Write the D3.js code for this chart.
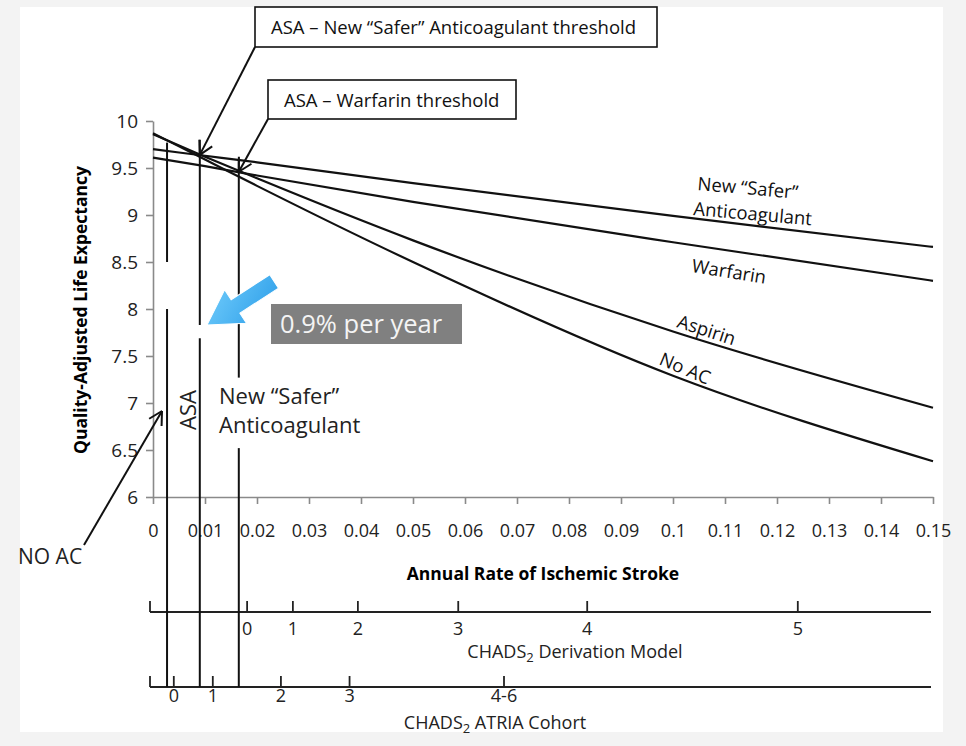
<!DOCTYPE html>
<html>
<head>
<meta charset="utf-8">
<script src="https://cdn.jsdelivr.net/npm/d3@7"></script>
<style>
  body { margin: 0; background: #f3f3f3; }
  text { font-family: "Open Sans", sans-serif; }
</style>
</head>
<body>
<div id="my_dataviz"></div>
<script>
const rates = [0, 0.01, 0.02, 0.05, 0.1, 0.15];
const newSafer = [9.70, 9.63, 9.56, 9.34, 8.99, 8.66];
const warfarin = [9.61, 9.52, 9.42, 9.14, 8.71, 8.30];
const aspirin = [9.86, 9.62, 9.39, 8.73, 7.76, 6.95];
const noAC = [9.87, 9.59, 9.31, 8.50, 7.29, 6.38];

const yTicks = [6, 6.5, 7, 7.5, 8, 8.5, 9, 9.5, 10];
const xTicks = [0, 0.01, 0.02, 0.03, 0.04, 0.05, 0.06, 0.07, 0.08, 0.09, 0.1, 0.11, 0.12, 0.13, 0.14, 0.15];

// CHADS2 scores placed on the stroke rate scale
const chadsLabels = ["0", "1", "2", "3", "4", "5"];
const chadsRates = [0.0181, 0.0269, 0.0394, 0.0587, 0.0835, 0.124];
const atriaLabels = ["0", "1", "2", "3", "4-6"];
const atriaRates = [0.004, 0.0115, 0.0246, 0.0378, 0.0675];

// threshold rates (vertical lines): NO AC, ASA, New "Safer"
const thresholdRates = [0.0027, 0.009, 0.0165];
const thresholdTops = [9.77, 9.80, 9.60];
// crossing points: ASA vs New "Safer", ASA vs Warfarin
const crossRates = [0.009, 0.0165];
const crossValues = [9.64, 9.46];

const W = 966, H = 746;
const margin = { top: 121, left: 153 },
  width = 780,
  height = 376;

const svg = d3.select("#my_dataviz")
  .append("svg")
  .attr("width", W)
  .attr("height", H);

// white page panel
svg.append("rect")
  .attr("x", 20).attr("y", 7)
  .attr("width", 923).attr("height", 725)
  .attr("fill", "#fff");

const x = d3.scaleLinear().domain([0, 0.15]).range([margin.left, margin.left + width]);
const y = d3.scaleLinear().domain([6, 10]).range([margin.top + height, margin.top]);

// Y axis
const yAxis = svg.append("g")
  .attr("transform", `translate(${margin.left},0)`)
  .call(d3.axisLeft(y).tickValues(yTicks).tickSize(7).tickSizeOuter(0).tickPadding(8).tickFormat(d3.format("~g")));
yAxis.select(".domain").attr("stroke", "#8a8a8a").attr("stroke-width", 1.6);
yAxis.selectAll(".tick line").attr("stroke", "#8a8a8a").attr("stroke-width", 1.6);
yAxis.selectAll("text").style("font-size", "19px").style("fill", "#222").style("font-family", "Open Sans");

// X axis
const xAxis = svg.append("g")
  .attr("transform", `translate(0,${margin.top + height})`)
  .call(d3.axisBottom(x).tickValues(xTicks).tickSize(7).tickSizeOuter(0).tickPadding(20).tickFormat((d) => +d.toFixed(2)));
xAxis.select(".domain").attr("stroke", "#8a8a8a").attr("stroke-width", 1.6);
xAxis.selectAll(".tick line").attr("stroke", "#8a8a8a").attr("stroke-width", 1.6);
xAxis.selectAll("text").style("font-size", "18px").style("fill", "#222").style("font-family", "Open Sans");

// axis titles
svg.append("text")
  .attr("transform", `translate(87,310)rotate(-90)`)
  .attr("text-anchor", "middle")
  .style("font-size", "17.5px").style("font-weight", "bold")
  .text("Quality-Adjusted Life Expectancy");
svg.append("text")
  .attr("x", 543).attr("y", 580)
  .attr("text-anchor", "middle")
  .style("font-size", "17.5px").style("font-weight", "bold")
  .text("Annual Rate of Ischemic Stroke");

// curves
const line = d3.line()
  .x((d) => x(d[0]))
  .y((d) => y(d[1]))
  .curve(d3.curveMonotoneX);
[newSafer, warfarin, aspirin, noAC].forEach((vals) => {
  svg.append("path")
    .datum(rates.map((r, i) => [r, vals[i]]))
    .attr("d", line)
    .attr("fill", "none")
    .attr("stroke", "#111")
    .attr("stroke-width", 2.2);
});

// curve labels
const curveLabels = [
  { t: "New \u201cSafer\u201d", px: 697, py: 190, a: 5 },
  { t: "Anticoagulant", px: 693, py: 215, a: 5 },
  { t: "Warfarin", px: 691, py: 272, a: 9 },
  { t: "Aspirin", px: 676, py: 327, a: 18 },
  { t: "No AC", px: 658, py: 364, a: 23 }
];
svg.selectAll(".clabel")
  .data(curveLabels)
  .join("text")
  .attr("transform", (d) => `translate(${d.px},${d.py})rotate(${d.a})`)
  .style("font-size", "18.5px")
  .style("fill", "#111")
  .text((d) => d.t);

// secondary CHADS2 axes
const chadsY = 612, atriaY = 687;
function subAxis(yPos, vals, labels, title, titleX, titleY) {
  const g = svg.append("g");
  g.append("line")
    .attr("x1", 150).attr("x2", 931)
    .attr("y1", yPos).attr("y2", yPos)
    .attr("stroke", "#222").attr("stroke-width", 1.8);
  g.append("line")
    .attr("x1", 150).attr("x2", 150)
    .attr("y1", yPos - 11).attr("y2", yPos)
    .attr("stroke", "#222").attr("stroke-width", 1.8);
  g.selectAll(".tk")
    .data(vals)
    .join("line")
    .attr("x1", (d) => x(d)).attr("x2", (d) => x(d))
    .attr("y1", yPos - 11).attr("y2", yPos)
    .attr("stroke", "#222").attr("stroke-width", 1.8);
  g.selectAll(".lb")
    .data(vals)
    .join("text")
    .attr("x", (d) => x(d))
    .attr("y", yPos + (yPos === chadsY ? 23 : 15))
    .attr("text-anchor", "middle")
    .style("font-size", "18px").style("fill", "#222")
    .text((d, i) => labels[i]);
  const t = g.append("text")
    .attr("x", titleX).attr("y", titleY)
    .attr("text-anchor", "middle")
    .style("font-size", "18px").style("fill", "#222");
  t.append("tspan").text("CHADS");
  t.append("tspan").attr("dy", 4).style("font-size", "13px").text("2");
  t.append("tspan").attr("dy", -4).text(" " + title);
}
subAxis(chadsY, chadsRates, chadsLabels, "Derivation Model", 575, 658);
subAxis(atriaY, atriaRates, atriaLabels, "ATRIA Cohort", 495, 729);

// threshold vertical lines (with gaps where labels sit)
const gaps = [[8.0, 8.5], [7.69, 7.83], [6.52, 7.27]];
thresholdRates.forEach((r, i) => {
  const segs = [[y(thresholdTops[i]), y(gaps[i][1])], [y(gaps[i][0]), atriaY]];
  segs.forEach((s) => {
    svg.append("line")
      .attr("x1", x(r)).attr("x2", x(r))
      .attr("y1", s[0]).attr("y2", s[1])
      .attr("stroke", "#111").attr("stroke-width", 2);
  });
});

// labels next to thresholds
svg.append("text")
  .attr("transform", `translate(${x(0.0085) - 1},410)rotate(-90)`)
  .attr("text-anchor", "middle")
  .style("font-size", "22px").style("fill", "#222")
  .text("ASA");
svg.append("text").attr("x", 219).attr("y", 404)
  .style("font-size", "22px").style("fill", "#222")
  .text("New \u201cSafer\u201d");
svg.append("text").attr("x", 219).attr("y", 433)
  .style("font-size", "22px").style("fill", "#222")
  .text("Anticoagulant");

// open arrow helper
function arrow(x1, y1, x2, y2) {
  svg.append("line")
    .attr("x1", x1).attr("y1", y1).attr("x2", x2).attr("y2", y2)
    .attr("stroke", "#111").attr("stroke-width", 2);
  const ang = Math.atan2(y2 - y1, x2 - x1);
  [-0.5, 0.5].forEach((da) => {
    svg.append("line")
      .attr("x1", x2).attr("y1", y2)
      .attr("x2", x2 - 15 * Math.cos(ang + da))
      .attr("y2", y2 - 15 * Math.sin(ang + da))
      .attr("stroke", "#111").attr("stroke-width", 2);
  });
}

// threshold callout boxes
const boxes = [
  { t: "ASA \u2013 New \u201cSafer\u201d Anticoagulant threshold", bx: 255, by: 7, bw: 402, bh: 40 },
  { t: "ASA \u2013 Warfarin threshold", bx: 268, by: 80, bw: 248, bh: 39 }
];
boxes.forEach((b, i) => {
  svg.append("rect")
    .attr("x", b.bx).attr("y", b.by)
    .attr("width", b.bw).attr("height", b.bh)
    .attr("fill", "#fff").attr("stroke", "#111").attr("stroke-width", 1.6);
  svg.append("text")
    .attr("x", b.bx + 16).attr("y", b.by + 27)
    .style("font-size", "18.5px").style("fill", "#111")
    .text(b.t);
  arrow(b.bx, b.by + b.bh, x(crossRates[i]), y(crossValues[i]));
});

// NO AC pointer
svg.append("text").attr("x", 18).attr("y", 564)
  .style("font-size", "21px").style("fill", "#222")
  .text("NO AC");
arrow(84, 545, 162, 411);

// blue block arrow
const defs = svg.append("defs");
const grad = defs.append("linearGradient").attr("id", "blueGrad")
  .attr("x1", "0").attr("y1", "0").attr("x2", "1").attr("y2", "1");
grad.append("stop").attr("offset", "0%").attr("stop-color", "#6fcbfb");
grad.append("stop").attr("offset", "100%").attr("stop-color", "#2e9fe9");
const tipX = 207, tipY = 325, rot = -33;
const shape = [[0, 0], [34, -20], [34, -8], [80, -8], [80, 8], [34, 8], [34, 20]];
svg.append("polygon")
  .attr("points", shape.map((p) => p.join(",")).join(" "))
  .attr("transform", `translate(${tipX},${tipY})rotate(${rot})`)
  .attr("fill", "url(#blueGrad)")
  .attr("stroke", "#fff").attr("stroke-width", 1);

// rate box
svg.append("rect")
  .attr("x", 271).attr("y", 304)
  .attr("width", 191).attr("height", 40)
  .attr("fill", "#808080");
svg.append("text")
  .attr("x", 280).attr("y", 333)
  .style("font-size", "25.5px").style("fill", "#f4f4f4")
  .text("0.9% per year");
</script>
</body>
</html>
